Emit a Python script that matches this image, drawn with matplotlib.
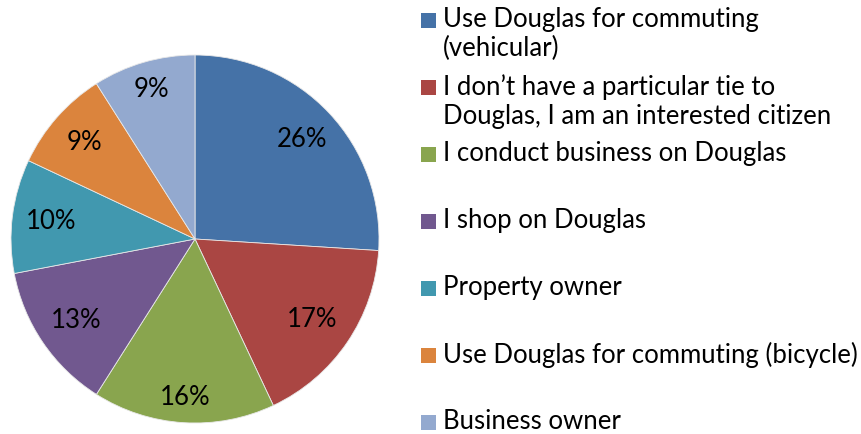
import numpy as np
import matplotlib.pyplot as plt
from matplotlib.patches import Rectangle

# data
categories = ['Use Douglas for commuting\n(vehicular)',
              'I don\u2019t have a particular tie to\nDouglas, I am an interested citizen',
              'I conduct business on Douglas',
              'I shop on Douglas',
              'Property owner',
              'Use Douglas for commuting (bicycle)',
              'Business owner']
shares = [26, 17, 16, 13, 10, 9, 9]
colors = ['#4572A7', '#AA4643', '#89A54E', '#71588F', '#4198AF', '#DB843D', '#93A9CF']
# Excel "best fit" label radii (fraction of radius)
label_dist = [0.80, 0.77, 0.86, 0.78, 0.79, 0.80, 0.85]

plt.rcParams['font.family'] = ['Lato', 'DejaVu Sans']

W, H = 861, 435
fig = plt.figure(figsize=(W / 100, H / 100), dpi=100)

# pie centre (195, 240) px, radius 184 px
cx, cy, r = 195, 240, 184
ax = fig.add_axes([(cx - r) / W, (H - cy - r) / H, 2 * r / W, 2 * r / H])
wedges, texts, autotexts = ax.pie(shares, colors=colors, startangle=90, counterclock=False,
                                  autopct='%d%%', pctdistance=0.8, radius=1,
                                  wedgeprops=dict(edgecolor='#e8e8e8', linewidth=0.6),
                                  textprops=dict(fontsize=18.5, color='black'))
for w, t, d in zip(wedges, autotexts, label_dist):
    a = np.deg2rad((w.theta1 + w.theta2) / 2)
    t.set_position((d * np.cos(a), d * np.sin(a)))
ax.set_xlim(-1, 1)
ax.set_ylim(-1, 1)
ax.set_aspect('equal')
ax.axis('off')

# legend, Excel style: fixed slot per entry
x_mark, x_text = 421, 443
y0, step = 21, 67
for i, (lab, c) in enumerate(zip(categories, colors)):
    y = y0 + step * i
    fig.patches.append(Rectangle((x_mark / W, 1 - (y + 7.5) / H), 15 / W, 15 / H,
                                 transform=fig.transFigure, facecolor=c, edgecolor='none'))
    fig.text(x_text / W, 1 - (y - 14) / H, lab, fontsize=18.5, va='top', ha='left',
             linespacing=1.2)

fig.savefig('out.png', dpi=100)
